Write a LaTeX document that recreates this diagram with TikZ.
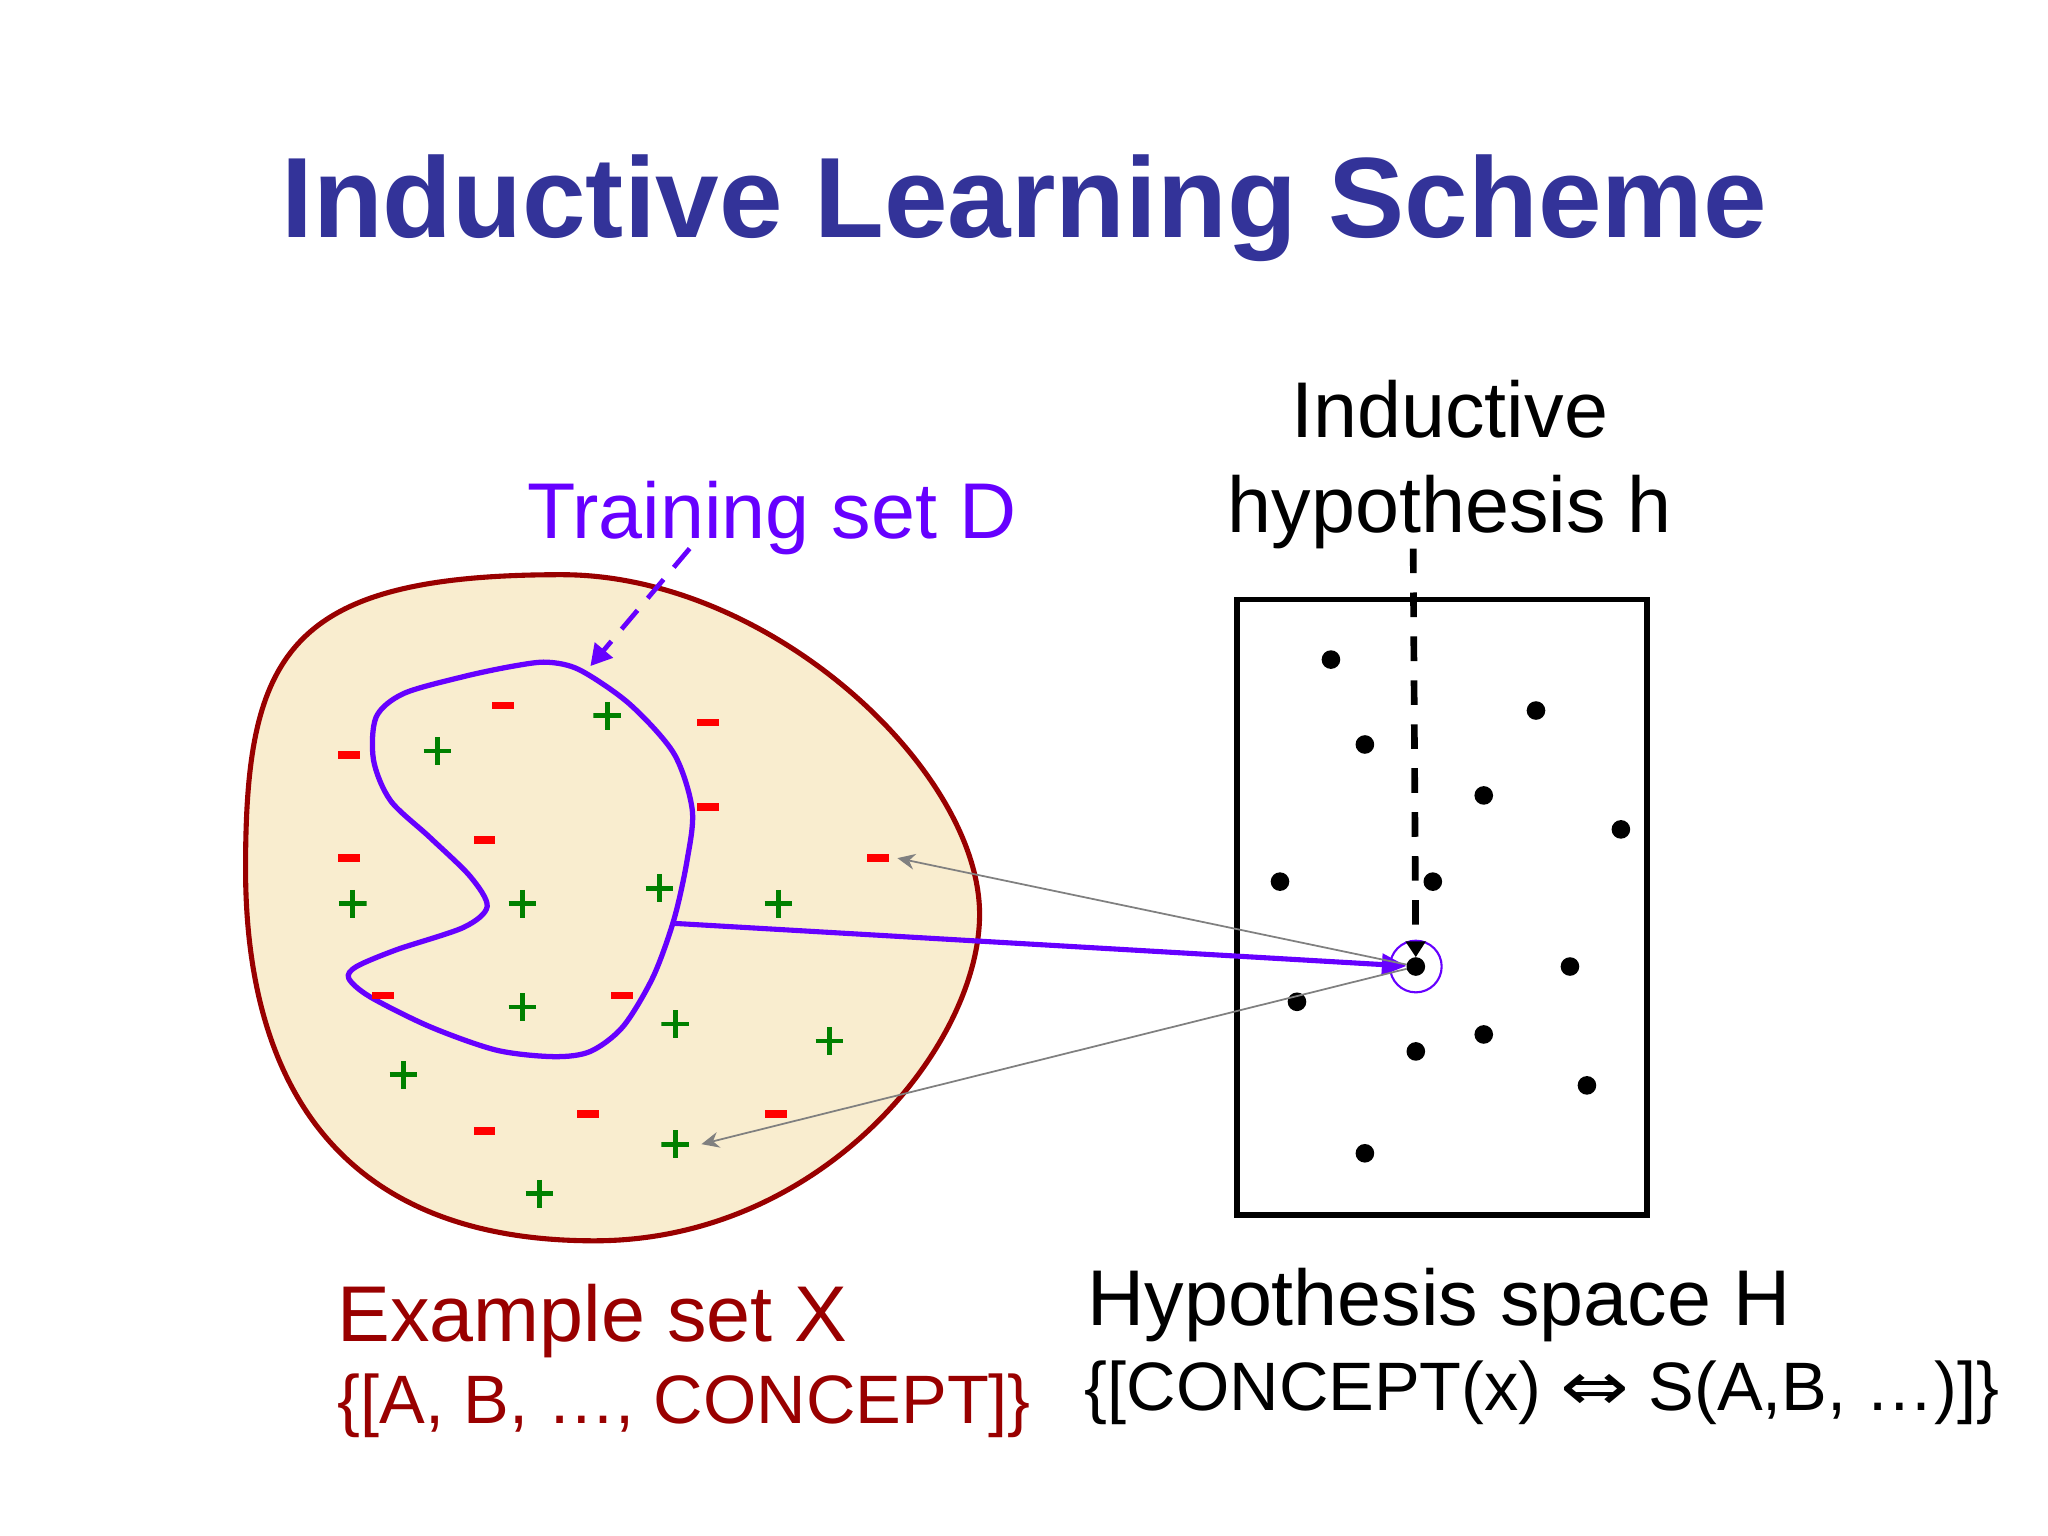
\documentclass[tikz,border=0pt]{standalone}
\usepackage{fontspec}
\setmainfont{Liberation Sans}
\newfontfamily\symfont{DejaVu Sans}
\usetikzlibrary{arrows.meta,shapes.geometric}
\definecolor{titleblue}{RGB}{51,51,153}
\definecolor{tpurple}{RGB}{102,0,255}
\definecolor{exred}{RGB}{153,0,0}
\definecolor{blobfill}{RGB}{249,237,207}
\definecolor{pgreen}{RGB}{0,128,0}
\definecolor{arrgray}{RGB}{128,128,128}
\begin{document}
\begin{tikzpicture}[x=0.01306cm,y=-0.01306cm,
  minussign/.style={fill=red, minimum width=6.2pt, minimum height=2.1pt, inner sep=0pt, outer sep=0pt},
  plussign/.style={minimum size=7.9pt, inner sep=0pt, outer sep=0pt,
    path picture={\draw[pgreen, line width=1.4pt]
      (path picture bounding box.north) -- (path picture bounding box.south)
      (path picture bounding box.west) -- (path picture bounding box.east);}},
  hdot/.style={circle, fill=black, minimum size=5.3pt, inner sep=0pt, outer sep=0pt},
  bigtext/.style={inner sep=0pt, font=\fontsize{22.5}{27}\selectfont},
  smalltext/.style={inner sep=0pt, font=\fontsize{19.5}{23}\selectfont},
  grayarrow/.style={draw=arrgray, line width=0.5pt, -{Stealth[length=5pt,width=4.5pt]}},
]
\useasboundingbox (0,0) rectangle (1568,1176);

% title
\node[anchor=base, inner sep=0pt, font=\bfseries\fontsize{32.5}{39}\selectfont, text=titleblue] (title) at (784,182) {Inductive Learning Scheme};

% example set blob
\draw[exred, line width=1.45pt, fill=blobfill]
  (430,440) .. controls (590,440) and (750,590) .. (750,700)
  .. controls (750,800) and (630,950) .. (455,950)
  .. controls (260,950) and (188,830) .. (188,665)
  .. controls (188,500) and (220,440) .. (430,440) -- cycle;

% training set curve
\draw[tpurple, line width=1.5pt] plot[smooth cycle, tension=0.5] coordinates {
  (419,507) (444,513) (482,539) (516,577) (530,620) (526,659) (516,704) (500,748)
  (477,786) (452,805) (424,809) (380,804) (329,786) (283,763) (267,749) (273,740)
  (304,727) (355,710) (373,694) (360,671) (329,641) (299,613) (286,582) (288,549)
  (309,531) (355,518) (393,510)};

% signs
\foreach \n/\px/\py in {1/385/540, 2/542/553, 3/267/578, 4/542/618, 5/371/643, 6/267/657,
   7/672/657, 8/293/762, 9/476/762, 10/371/866, 11/450/853, 12/594/853}
  \node[minussign] (m\n) at (\px,\py) {};
\foreach \n/\px/\py in {1/465/548, 2/335/575, 3/270/692, 4/400/692, 5/505/680, 6/596/692,
   7/400/771, 8/517/784, 9/635/797, 10/309/823, 11/517/876, 12/413/914}
  \node[plussign] (p\n) at (\px,\py) {};

% labels
\node[bigtext, anchor=base west, text=tpurple] (tsd) at (403,412) {Training set D};
\node[bigtext, anchor=base] (ih1) at (1110,335) {Inductive};
\node[bigtext, anchor=base] (ih2) at (1110,408) {hypothesis h};
\node[bigtext, anchor=base west, text=exred] (exs) at (258,1027) {Example set X};
\node[smalltext, anchor=base west, text=exred] (exf) at (258,1090) {\{[A, B, …, CONCEPT]\}};
\node[bigtext, anchor=base west] (hs) at (832,1015) {Hypothesis space H};
\node[smalltext, anchor=base west] (hf) at (830,1080) {\{[CONCEPT(x) \scalebox{1.2}[1]{\symfont ⇔} S(A,B, …)]\}};

% hypothesis space
\draw[line width=1.6pt] (947,459) rectangle (1261,930);
\foreach \n/\px/\py in {1/1019/505, 2/1176/544, 3/1045/570, 4/1136/609, 5/1241/635,
   6/980/675, 7/1097/675, 8/1202/740, 9/993/767, 10/1136/792, 11/1084/805,
   12/1215/831, 13/1045/883}
  \node[hdot] (d\n) at (\px,\py) {};
\node[hdot] (h) at (1084,740) {};
\node[circle, draw=tpurple, line width=0.6pt, minimum size=14.7pt, inner sep=0pt] (hc) at (1084,740) {};

% connectors
\coordinate (dstart) at (528,420);
\coordinate (tstart) at (517,707);
\coordinate (vstart) at (1082,420);
\draw[tpurple, line width=1.35pt, dash pattern=on 7pt off 4.5pt, -{Triangle[length=6pt,width=6.5pt]}] (dstart) -- (452,510);
\draw[tpurple, line width=1.45pt, -{Triangle[length=7pt,width=6pt]}] (tstart) -- (h);
\draw[line width=1.9pt, dash pattern=on 7pt off 5.5pt, -{Triangle[length=4.5pt,width=5.5pt]}] (vstart) -- (h);
\draw[grayarrow] (h) -- ([xshift=2.5pt]m7.east);
\draw[grayarrow] (h) -- ([xshift=3.5pt]p11.east);
\end{tikzpicture}
\end{document}
